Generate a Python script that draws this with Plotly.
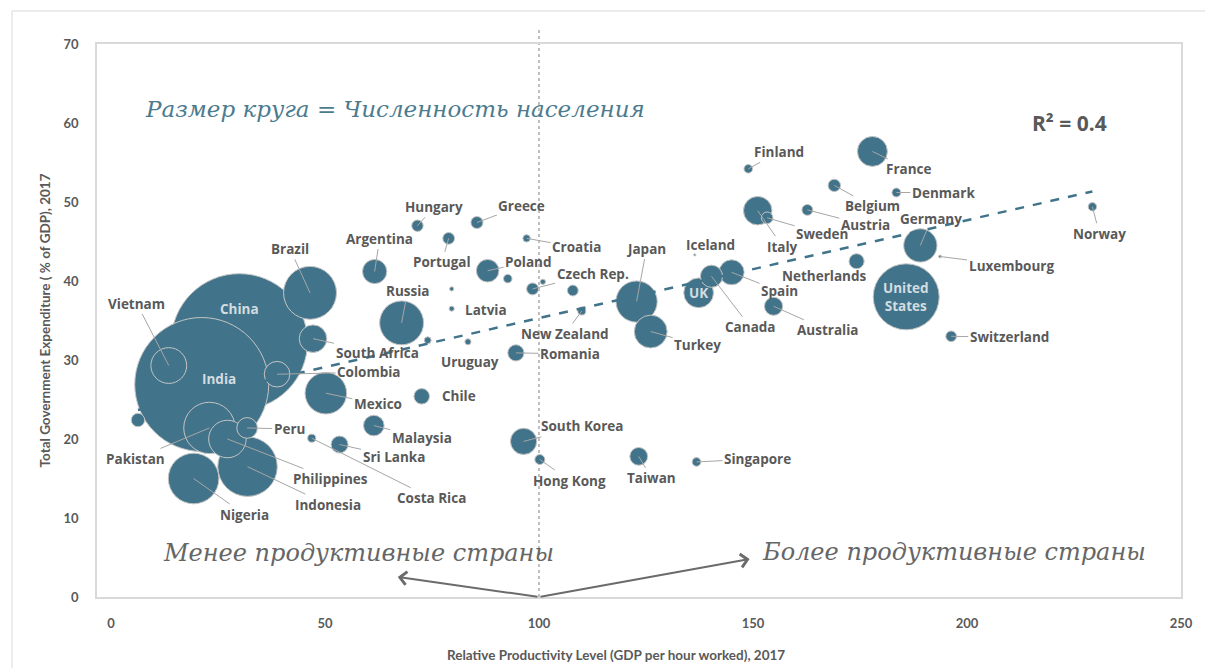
import plotly.graph_objects as go

# ---------------- data ----------------
countries = ["China", "India", "United States", "Indonesia", "Brazil", "Pakistan", "Nigeria",
             "Russia", "Mexico", "Japan", "Philippines", "Vietnam", "Germany", "Turkey",
             "France", "UK", "Italy", "South Africa", "South Korea", "Colombia", "Spain",
             "Argentina", "Poland", "Canada", "Peru", "Malaysia", "Australia", "Taiwan",
             "Sri Lanka", "Romania", "Chile", "Netherlands", "Cambodia", "Belgium", "Greece",
             "Czech Rep.", "Portugal", "Sweden", "Hungary", "Austria", "Israel", "Switzerland",
             "Hong Kong", "Denmark", "Singapore", "Finland", "Slovakia", "Norway", "Costa Rica",
             "New Zealand", "Croatia", "Uruguay", "Lithuania", "Slovenia", "Latvia", "Estonia",
             "Luxembourg", "Iceland"]

productivity = [30.0, 21.2, 185.8, 31.9, 46.5, 23.0, 19.3,
                67.9, 50.2, 122.8, 27.2, 13.5, 189.1, 126.1,
                177.9, 137.3, 151.1, 47.2, 96.4, 38.8, 145.0,
                61.6, 88.0, 140.3, 31.8, 61.4, 154.8, 123.3,
                53.4, 94.6, 72.6, 174.2, 6.3, 169.0, 85.5,
                98.5, 78.9, 153.3, 71.6, 162.7, 107.9, 196.3,
                100.2, 183.5, 136.8, 148.9, 92.7, 229.3, 46.9,
                110.0, 97.1, 74.0, 83.4, 100.9, 79.6, 79.6,
                193.7, 136.4]

expenditure = [32.3, 26.9, 38.0, 16.5, 38.5, 21.4, 15.0,
               34.7, 25.8, 37.4, 20.0, 29.3, 44.5, 33.6,
               56.4, 38.5, 48.9, 32.7, 19.7, 28.2, 41.1,
               41.2, 41.3, 40.6, 21.4, 21.7, 36.8, 17.8,
               19.3, 30.9, 25.4, 42.5, 22.4, 52.1, 47.4,
               39.0, 45.4, 48.0, 47.0, 49.0, 38.8, 33.0,
               17.4, 51.2, 17.1, 54.2, 40.3, 49.4, 20.1,
               36.2, 45.4, 32.5, 32.3, 39.9, 36.5, 39.0,
               43.1, 43.3]

population_mln = [1386, 1339, 325, 264, 209, 197, 191,
                  144, 129, 127, 105, 95.5, 82.7, 80.7,
                  67, 66, 60.5, 56.7, 51.5, 49, 46.6,
                  44, 38, 36.7, 32, 31.6, 24.6, 23.6,
                  21.4, 19.6, 18, 17, 13.4, 11.4, 10.8,
                  10.6, 10.3, 10.1, 9.8, 8.8, 8.7, 8.5,
                  7.4, 5.8, 5.6, 5.5, 5.4, 5.3, 4.9,
                  4.8, 4.1, 3.5, 2.8, 2.1, 1.9, 1.3,
                  0.6, 0.34]

hidden_labels = ["Cambodia", "Israel", "Slovakia", "Lithuania", "Slovenia", "Estonia"]
inside_labels = {"China": "China", "India": "India", "UK": "UK", "United States": "United<br>States"}

trend_intercept = 22.9
trend_slope = 0.124
r_squared = 0.4

x_ticks = [0, 50, 100, 150, 200, 250]
y_ticks = [0, 10, 20, 30, 40, 50, 60, 70]

# ---------------- layout helpers (label placement, in pixels) ----------------
label_offsets = {
    "China": (0, -33, False), "India": (17, -5, False), "UK": (0, 0, False),
    "United States": (0, 0, False),
    "Finland": (31, -17, True), "France": (37, 18, True), "Denmark": (47, 0, True),
    "Belgium": (38, 21, True), "Austria": (58, 15, True), "Sweden": (55, 16, True),
    "Italy": (25, 36, True), "Germany": (11, -26, True), "Norway": (7, 27, True),
    "Iceland": (16, -10, False), "Netherlands": (-33, 15, False), "Luxembourg": (71, 9, True),
    "Spain": (48, 19, True), "Canada": (39, 51, True), "Australia": (54, 24, True),
    "Switzerland": (58, 1, True), "Turkey": (47, 13, True), "Japan": (10, -53, True),
    "Croatia": (50, 9, True), "Greece": (45, -17, True), "Hungary": (17, -19, True),
    "Argentina": (5, -33, True), "Portugal": (-7, 24, True), "Poland": (41, -9, True),
    "Czech Rep.": (60, -15, True), "Latvia": (34, 1, False), "Russia": (6, -32, True),
    "New Zealand": (-17, 23, True), "Uruguay": (42, 22, True), "Romania": (54, 1, True),
    "South Africa": (64, 14, True), "Colombia": (92, -2, True), "Mexico": (52, 11, True),
    "Chile": (37, 0, False), "Malaysia": (48, 12, True), "Sri Lanka": (54, 12, True),
    "Costa Rica": (120, 60, True), "Peru": (42, 1, True), "Philippines": (103, 40, True),
    "Indonesia": (80, 38, True), "Nigeria": (51, 36, True), "Pakistan": (-74, 31, True),
    "Vietnam": (-32, -62, True), "Brazil": (-20, -44, True), "South Korea": (59, -15, True),
    "Hong Kong": (30, 21, True), "Taiwan": (13, 22, True), "Singapore": (61, -3, True),
}

BUBBLE = "#41748a"
OUTLINE = "#c4c4c4"
TEXT = "#595959"
LEADER = "#a6a6a6"
FONT = "Open Sans"
TICKFONT = "Lato"
HAND = "DejaVu Serif"

x_range = [-3.27, 250]
y_range = [0, 70]

order = sorted(range(len(countries)), key=lambda i: -population_mln[i])

fig = go.Figure()

fig.add_trace(go.Scatter(
    x=[productivity[i] for i in order],
    y=[expenditure[i] for i in order],
    mode="markers",
    text=[countries[i] for i in order],
    marker=dict(
        size=[population_mln[i] for i in order],
        sizemode="area",
        sizeref=1 / (2 * 3.35),
        sizemin=1,
        color=BUBBLE,
        opacity=1,
        line=dict(color=OUTLINE, width=1),
    ),
    hoverinfo="text",
    showlegend=False,
))

# linear trend line
tx = [min(productivity), max(productivity)]
ty = [trend_intercept + trend_slope * v for v in tx]
fig.add_trace(go.Scatter(
    x=tx, y=ty, mode="lines",
    line=dict(color=BUBBLE, width=2.5, dash="dash"),
    hoverinfo="skip", showlegend=False,
))

annotations = []
for i, name in enumerate(countries):
    if name in hidden_labels:
        continue
    dx, dy, leader = label_offsets[name]
    inside = name in inside_labels
    txt = inside_labels.get(name, name)
    font = dict(family=FONT, size=13.5, color="#d3dce0" if inside else TEXT, weight="bold")
    if leader:
        annotations.append(dict(
            x=productivity[i], y=expenditure[i], xref="x", yref="y", text=txt,
            showarrow=True, ax=dx, ay=dy, arrowhead=0, arrowwidth=1,
            arrowcolor=LEADER, standoff=0, startstandoff=0, font=font,
        ))
    else:
        annotations.append(dict(
            x=productivity[i], y=expenditure[i], xref="x", yref="y", text=txt,
            showarrow=False, xshift=dx, yshift=-dy, font=font,
        ))

# handwritten-style notes
annotations.append(dict(
    x=0.042, y=0.883, xref="paper", yref="paper", xanchor="left", yanchor="middle",
    text="Размер круга = Численность населения", showarrow=False,
    font=dict(family=HAND, size=23, color="#4b7b8e", style="italic"),
))
annotations.append(dict(
    x=0.241, y=0.08, xref="paper", yref="paper", xanchor="center", yanchor="middle",
    text="Менее продуктивные страны", showarrow=False,
    font=dict(family=HAND, size=24, color="#666666", style="italic"),
))
annotations.append(dict(
    x=0.791, y=0.082, xref="paper", yref="paper", xanchor="center", yanchor="middle",
    text="Более продуктивные страны", showarrow=False,
    font=dict(family=HAND, size=24, color="#666666", style="italic"),
))
annotations.append(dict(
    x=0.897, y=0.857, xref="paper", yref="paper", xanchor="center", yanchor="middle",
    text=f"R² = {r_squared}", showarrow=False,
    font=dict(family=FONT, size=21, color=TEXT, weight="bold"),
))

# arrows from x=100 on the axis
for tip in [(67.0, 2.53), (149.2, 4.8)]:
    annotations.append(dict(
        x=tip[0], y=tip[1], xref="x", yref="y", ax=100, ay=0, axref="x", ayref="y",
        text="", showarrow=True, arrowhead=4, arrowsize=1.3, arrowwidth=2,
        arrowcolor="#6b6b6b", standoff=0,
    ))

# axis titles
annotations.append(dict(
    x=-0.048, y=0.5, xref="paper", yref="paper", xanchor="center", yanchor="middle",
    text="Total Government Expenditure ( % of GDP), 2017", textangle=-90, showarrow=False,
    font=dict(family=TICKFONT, size=13.5, color=TEXT, weight="bold"),
))
annotations.append(dict(
    x=0.479, y=-0.105, xref="paper", yref="paper", xanchor="center", yanchor="middle",
    text="Relative Productivity Level (GDP per hour worked), 2017", showarrow=False,
    font=dict(family=TICKFONT, size=13.5, color=TEXT, weight="bold"),
))

x_ref_paper = (100 - x_range[0]) / (x_range[1] - x_range[0])
shapes = [
    # outer chart border
    dict(type="rect", xref="paper", yref="paper", x0=-0.0784, x1=1.05, y0=-0.3, y1=1.0597,
         line=dict(color="#d9d9d9", width=1), layer="below"),
    # dotted reference line at x = 100
    dict(type="line", xref="paper", yref="paper", x0=x_ref_paper, x1=x_ref_paper, y0=0, y1=1.027,
         line=dict(color="#7f7f7f", width=1, dash="dot"), layer="below"),
]

fig.update_layout(
    width=1205, height=668,
    margin=dict(l=97, r=24, t=44, b=71),
    paper_bgcolor="white", plot_bgcolor="white",
    font=dict(family=FONT, color=TEXT),
    annotations=annotations,
    shapes=shapes,
    showlegend=False,
)
fig.update_xaxes(
    range=x_range, tickvals=x_ticks, showgrid=False, zeroline=False,
    showline=True, mirror=True, linecolor="#d9d9d9", linewidth=1.5,
    ticks="", ticklabelstandoff=14,
    tickfont=dict(family=TICKFONT, size=13, color=TEXT, weight="bold"),
)
fig.update_yaxes(
    range=y_range, tickvals=y_ticks, showgrid=False, zeroline=False,
    showline=True, mirror=True, linecolor="#d9d9d9", linewidth=1.5,
    ticks="", ticklabelstandoff=14,
    tickfont=dict(family=TICKFONT, size=13, color=TEXT, weight="bold"),
)

fig.write_html(
    "out.html",
    config={"displayModeBar": False},
    post_script="document.body.style.margin='0';document.body.style.overflow='hidden';",
)
